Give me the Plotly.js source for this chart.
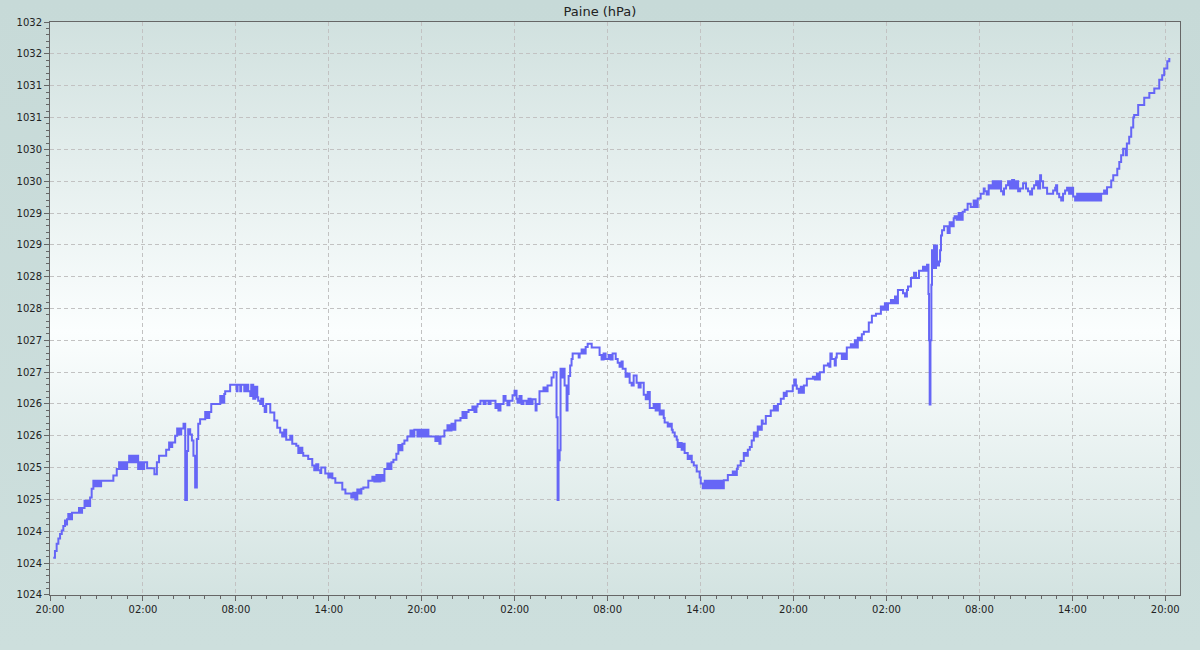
<!DOCTYPE html>
<html>
<head>
<meta charset="utf-8">
<script src="https://cdn.plot.ly/plotly-3.0.1.min.js"></script>
<style>
html, body { margin: 0; padding: 0; }
body { width: 1200px; height: 650px; overflow: hidden; background: linear-gradient(#c7dad8, #cddfdd); }
#chart { width: 1200px; height: 650px; }
</style>
</head>
<body>
<div id="chart"></div>
<script>
// Time axis starts at 20:00 on the first day; offsets are hours from that moment.
const startTime = Date.UTC(2024, 2, 10, 20, 0, 0);
const chartTitle = 'Paine (hPa)';

const hours = [
  0.21, 0.32, 0.43, 0.54, 0.65, 0.76, 0.86, 0.97, 1.03, 1.10, 1.18, 1.23, 1.29, 1.36, 1.42, 1.87, 1.94, 2.07,
  2.23, 2.33, 2.42, 2.52, 2.59, 2.69, 2.80, 2.91, 3.04, 3.17, 3.30, 4.09, 4.31, 4.46, 4.59, 4.72, 4.85, 4.98,
  5.11, 5.24, 5.36, 5.49, 5.62, 5.69, 5.82, 5.95, 6.08, 6.27, 6.74, 6.90, 7.04, 7.50, 7.69, 7.82, 7.89, 8.08,
  8.21, 8.34, 8.47, 8.62, 8.73, 8.84, 8.92, 9.05, 9.16, 9.26, 9.37, 9.48, 9.57, 9.69, 10.02, 10.15, 10.28, 10.41,
  10.99, 11.12, 11.25, 11.31, 11.63, 12.05, 12.11, 12.28, 12.34, 12.54, 12.67, 12.80, 12.93, 12.99, 13.12, 13.25,
  13.38, 13.44, 13.57, 13.64, 13.76, 13.86, 13.96, 14.22, 14.48, 14.67, 14.86, 14.99, 15.12, 15.25, 15.51, 15.64,
  15.90, 16.03, 16.16, 16.29, 16.35, 16.67, 16.93, 17.06, 17.19, 17.32, 17.45, 17.51, 17.77, 17.97, 18.10, 18.23,
  18.42, 18.87, 19.07, 19.45, 19.58, 19.71, 19.84, 19.97, 20.10, 20.23, 20.55, 20.81, 20.94, 21.07, 21.20, 21.33,
  21.46, 21.59, 21.78, 21.91, 22.04, 22.17, 22.36, 22.49, 22.62, 22.75, 22.88, 23.07, 23.27, 23.40, 23.52, 23.72,
  23.85, 23.98, 24.11, 24.24, 24.37, 24.43, 24.88, 25.01, 25.14, 25.21, 25.46, 25.66, 25.79, 25.92, 26.05, 26.17,
  26.50, 26.63, 26.76, 26.89, 27.02, 27.27, 27.40, 27.53, 27.60, 27.79, 27.99, 28.12, 28.31, 28.44, 28.76, 28.89,
  28.95, 29.08, 29.28, 29.41, 29.53, 29.66, 29.86, 29.99, 30.12, 30.18, 30.31, 30.44, 30.57, 30.76, 30.89, 31.02,
  31.15, 31.35, 31.41, 31.60, 31.86, 31.99, 32.12, 32.38, 32.51, 32.70, 32.77, 32.83, 32.90, 32.96, 33.06, 33.16,
  33.22, 33.35, 33.41, 33.48, 33.58, 33.67, 33.74, 34.13, 34.19, 34.32, 34.45, 34.58, 34.71, 34.97, 35.48, 35.61,
  35.74, 35.87, 36.06, 36.19, 36.32, 36.52, 36.65, 36.77, 36.90, 36.97, 37.16, 37.29, 37.42, 37.55, 37.68, 37.87,
  38.00, 38.13, 38.33, 38.46, 38.59, 38.72, 38.97, 39.10, 39.23, 39.36, 39.49, 39.62, 39.68, 39.88, 40.01, 40.14,
  40.20, 40.33, 40.46, 40.52, 40.65, 40.78, 40.91, 40.97, 41.17, 41.30, 41.43, 41.56, 41.75, 41.94, 42.01, 42.14,
  42.27, 42.40, 42.53, 42.66, 42.79, 42.92, 43.05, 43.18, 43.31, 43.44, 43.50, 43.76, 44.08, 44.21, 44.34, 44.40,
  44.59, 44.79, 44.92, 45.05, 45.18, 45.30, 45.44, 45.56, 45.69, 45.82, 45.95, 46.01, 46.21, 46.53, 46.73, 46.86,
  46.99, 47.18, 47.37, 47.50, 47.56, 47.95, 48.05, 48.15, 48.21, 48.34, 48.47, 48.60, 48.67, 48.86, 49.25, 49.38,
  49.51, 49.64, 49.70, 49.96, 50.22, 50.31, 50.38, 50.47, 50.66, 50.73, 50.79, 51.12, 51.25, 51.38, 51.44, 51.70,
  51.83, 51.96, 52.09, 52.15, 52.28, 52.41, 52.54, 52.86, 53.06, 53.32, 53.64, 53.77, 53.90, 54.03, 54.10, 54.29,
  54.42, 54.55, 54.68, 54.74, 55.07, 55.20, 55.32, 55.39, 55.58, 55.78, 55.91, 56.10, 56.36, 56.49, 56.62, 56.71,
  56.75, 56.79, 56.84, 56.90, 56.94, 57.01, 57.07, 57.14, 57.20, 57.26, 57.39, 57.46, 57.52, 57.59, 57.72, 57.95,
  58.08, 58.21, 58.34, 58.40, 58.53, 58.66, 58.79, 58.92, 59.05, 59.24, 59.44, 59.63, 59.76, 59.89, 60.08, 60.28,
  60.34, 60.47, 60.60, 60.73, 60.86, 60.99, 61.11, 61.24, 61.37, 61.40, 61.53, 61.59, 61.72, 61.85, 61.98, 62.11,
  62.24, 62.37, 62.50, 62.63, 62.82, 63.01, 63.14, 63.27, 63.40, 63.53, 63.66, 63.79, 63.92, 63.98, 64.11, 64.37,
  64.76, 64.89, 64.95, 65.02, 65.15, 65.28, 65.40, 65.53, 65.66, 65.79, 65.92, 66.05, 66.18, 66.31, 66.44, 66.57,
  66.70, 66.83, 66.96, 67.09, 67.22, 67.34, 67.47, 67.60, 67.73, 67.86, 68.05, 68.18, 68.24, 68.51, 68.64, 68.90,
  69.03, 69.15, 69.28, 69.45, 69.52, 69.67, 69.80, 69.93, 69.99, 70.25, 70.64, 70.97, 71.29, 71.61, 71.80, 71.93,
  72.13, 72.26
];

const pressure = [
  1024.08, 1024.18, 1024.29, 1024.37, 1024.44, 1024.49, 1024.56, 1024.64, 1024.58, 1024.66, 1024.74, 1024.66, 1024.74, 1024.66, 1024.76, 1024.83, 1024.76, 1024.83,
  1024.94, 1024.86, 1024.94, 1024.86, 1024.99, 1025.12, 1025.24, 1025.16, 1025.24, 1025.16, 1025.24, 1025.32, 1025.42, 1025.52, 1025.42, 1025.52, 1025.42, 1025.52,
  1025.62, 1025.52, 1025.62, 1025.52, 1025.62, 1025.42, 1025.52, 1025.42, 1025.52, 1025.43, 1025.34, 1025.52, 1025.62, 1025.71, 1025.82, 1025.75, 1025.82, 1025.92,
  1026.03, 1025.94, 1026.03, 1026.10, 1024.95, 1025.69, 1026.02, 1025.94, 1025.85, 1025.62, 1025.14, 1025.87, 1026.10, 1026.17, 1026.28, 1026.19, 1026.28, 1026.40,
  1026.52, 1026.42, 1026.55, 1026.59, 1026.69, 1026.59, 1026.69, 1026.59, 1026.69, 1026.59, 1026.69, 1026.59, 1026.52, 1026.69, 1026.48, 1026.66,
  1026.50, 1026.45, 1026.40, 1026.48, 1026.37, 1026.28, 1026.40, 1026.27, 1026.15, 1026.04, 1025.97, 1025.91, 1026.01, 1025.86, 1025.92, 1025.80,
  1025.77, 1025.66, 1025.74, 1025.66, 1025.62, 1025.57, 1025.47, 1025.40, 1025.49, 1025.40, 1025.36, 1025.44, 1025.35, 1025.29, 1025.35, 1025.28,
  1025.21, 1025.11, 1025.05, 1024.99, 1025.06, 1024.96, 1025.11, 1025.05, 1025.12, 1025.14, 1025.24, 1025.30, 1025.23, 1025.33, 1025.23, 1025.33,
  1025.24, 1025.42, 1025.50, 1025.42, 1025.52, 1025.56, 1025.65, 1025.78, 1025.70, 1025.80, 1025.85, 1025.91, 1026.00, 1025.91, 1026.01, 1025.91,
  1026.01, 1025.91, 1026.01, 1025.91, 1026.01, 1025.91, 1025.84, 1025.91, 1025.80, 1025.91, 1026.00, 1026.08, 1026.00, 1026.10, 1026.01, 1026.15,
  1026.19, 1026.28, 1026.19, 1026.28, 1026.31, 1026.36, 1026.28, 1026.36, 1026.40, 1026.45, 1026.40, 1026.45, 1026.40, 1026.45, 1026.34, 1026.40,
  1026.30, 1026.40, 1026.52, 1026.45, 1026.38, 1026.45, 1026.53, 1026.60, 1026.48, 1026.42, 1026.52, 1026.40, 1026.45, 1026.40, 1026.48, 1026.40,
  1026.47, 1026.30, 1026.40, 1026.59, 1026.65, 1026.59, 1026.68, 1026.80, 1026.88, 1026.20, 1024.95, 1025.55, 1025.70, 1026.93, 1026.80, 1026.93,
  1026.68, 1026.30, 1026.55, 1026.82, 1026.98, 1027.08, 1027.16, 1027.10, 1027.16, 1027.22, 1027.16, 1027.26, 1027.31, 1027.25, 1027.14, 1027.07,
  1027.16, 1027.08, 1027.14, 1027.07, 1027.16, 1027.08, 1027.02, 1026.96, 1027.04, 1026.93, 1026.81, 1026.86, 1026.72, 1026.68, 1026.83, 1026.72,
  1026.65, 1026.72, 1026.54, 1026.47, 1026.58, 1026.34, 1026.40, 1026.30, 1026.40, 1026.24, 1026.30, 1026.19, 1026.12, 1026.06, 1026.10, 1026.01,
  1025.97, 1025.91, 1025.86, 1025.75, 1025.81, 1025.71, 1025.80, 1025.66, 1025.57, 1025.62, 1025.52, 1025.47, 1025.38, 1025.29, 1025.20, 1025.13,
  1025.24, 1025.13, 1025.24, 1025.13, 1025.24, 1025.13, 1025.24, 1025.13, 1025.24, 1025.13, 1025.25, 1025.33, 1025.38, 1025.33, 1025.42, 1025.47,
  1025.54, 1025.66, 1025.62, 1025.71, 1025.75, 1025.85, 1025.97, 1025.91, 1026.06, 1026.01, 1026.15, 1026.10, 1026.22, 1026.30, 1026.37, 1026.30,
  1026.40, 1026.48, 1026.57, 1026.52, 1026.59, 1026.68, 1026.77, 1026.68, 1026.63, 1026.57, 1026.66, 1026.57, 1026.68, 1026.78, 1026.81, 1026.77,
  1026.86, 1026.77, 1026.88, 1026.98, 1027.01, 1026.96, 1027.16, 1027.08, 1026.98, 1027.10, 1027.16, 1027.08, 1027.16, 1027.08, 1027.25, 1027.30,
  1027.25, 1027.36, 1027.25, 1027.40, 1027.36, 1027.45, 1027.49, 1027.63, 1027.73, 1027.76, 1027.87, 1027.82, 1027.92, 1027.82, 1027.92, 1027.97,
  1027.92, 1028.02, 1027.92, 1028.12, 1028.07, 1028.02, 1028.12, 1028.17, 1028.30, 1028.38, 1028.30, 1028.41, 1028.47, 1028.41, 1028.50, 1028.06,
  1027.36, 1026.39, 1027.36, 1028.20, 1028.72, 1028.45, 1028.79, 1028.45, 1028.79, 1028.49, 1028.55, 1028.72, 1028.94, 1029.02, 1029.08, 1028.98,
  1029.14, 1029.08, 1029.20, 1029.23, 1029.18, 1029.28, 1029.18, 1029.30, 1029.33, 1029.42, 1029.37, 1029.47, 1029.37, 1029.50, 1029.57, 1029.65,
  1029.61, 1029.56, 1029.70, 1029.65, 1029.76, 1029.65, 1029.76, 1029.65, 1029.76, 1029.61, 1029.56, 1029.65, 1029.70, 1029.76, 1029.65, 1029.78,
  1029.65, 1029.76, 1029.61, 1029.65, 1029.73, 1029.65, 1029.61, 1029.56, 1029.65, 1029.70, 1029.76, 1029.65, 1029.85, 1029.76, 1029.66, 1029.57,
  1029.62, 1029.66, 1029.70, 1029.57, 1029.52, 1029.47, 1029.57, 1029.62, 1029.66, 1029.57, 1029.66, 1029.53, 1029.47, 1029.57, 1029.47, 1029.57,
  1029.47, 1029.57, 1029.47, 1029.57, 1029.47, 1029.57, 1029.47, 1029.57, 1029.47, 1029.57, 1029.62, 1029.57, 1029.67, 1029.77, 1029.85, 1029.95,
  1030.05, 1030.15, 1030.25, 1030.15, 1030.33, 1030.43, 1030.57, 1030.72, 1030.76, 1030.91, 1031.02, 1031.09, 1031.16, 1031.29, 1031.36, 1031.46,
  1031.57, 1031.62
];

function toStamp(ms) {
  return new Date(ms).toISOString().slice(0, 19).replace('T', ' ');
}
const times = hours.map(h => toStamp(startTime + Math.round(h * 3600000)));

const axisFont = { family: 'DejaVu Sans, sans-serif', size: 10, color: '#222222' };
const lineGrey = '#666666';

const bgSvg = '<svg xmlns="http://www.w3.org/2000/svg" width="100" height="100" preserveAspectRatio="none">' +
  '<defs><linearGradient id="g" x1="0" y1="0" x2="0" y2="1">' +
  '<stop offset="0" stop-color="#d1e1df"/>' +
  '<stop offset="0.54" stop-color="#fbfefe"/>' +
  '<stop offset="1" stop-color="#d3e3e1"/>' +
  '</linearGradient></defs><rect width="100" height="100" fill="url(#g)"/></svg>';

const trace = {
  x: times,
  y: pressure,
  type: 'scatter',
  mode: 'lines',
  line: { color: '#6666f6', width: 2, shape: 'hv' },
  hoverinfo: 'x+y'
};

const layout = {
  width: 1200,
  height: 650,
  margin: { l: 50, r: 20, t: 22, b: 55, pad: 0 },
  paper_bgcolor: 'rgba(0,0,0,0)',
  plot_bgcolor: 'rgba(0,0,0,0)',
  showlegend: false,
  title: {
    text: chartTitle,
    font: { family: 'DejaVu Sans, sans-serif', size: 13, color: '#222222' },
    xref: 'container', x: 0.5, xanchor: 'center',
    yref: 'container', y: 1 - 11 / 650, yanchor: 'middle'
  },
  images: [{
    source: 'data:image/svg+xml;charset=utf-8,' + encodeURIComponent(bgSvg),
    xref: 'paper', yref: 'paper', x: 0, y: 1, sizex: 1, sizey: 1,
    xanchor: 'left', yanchor: 'top', sizing: 'stretch', layer: 'below'
  }],
  xaxis: {
    type: 'date',
    range: [toStamp(startTime), toStamp(startTime + 72.95 * 3600000)],
    tickmode: 'linear',
    tick0: toStamp(startTime),
    dtick: 6 * 3600000,
    tickformat: '%H:%M',
    tickfont: axisFont,
    ticks: 'outside', ticklen: 5, tickcolor: lineGrey, tickwidth: 1,
    showline: true, linecolor: lineGrey, linewidth: 1, mirror: true,
    showgrid: true, gridcolor: '#c2c2c2', gridwidth: 1, griddash: '4px,3px',
    zeroline: false,
    minor: { dtick: 3600000, ticks: 'outside', ticklen: 3, tickcolor: lineGrey, showgrid: false }
  },
  yaxis: {
    range: [1023.518, 1032.162],
    tickmode: 'linear',
    tick0: 1023.52,
    dtick: 0.48,
    tickformat: '.0f',
    tickfont: axisFont,
    ticks: 'outside', ticklen: 5, tickcolor: lineGrey, tickwidth: 1,
    showline: true, linecolor: lineGrey, linewidth: 1, mirror: true,
    showgrid: true, gridcolor: '#c2c2c2', gridwidth: 1, griddash: '4px,3px',
    zeroline: false,
    minor: { tick0: 1023.52, dtick: 0.096, ticks: 'outside', ticklen: 3, tickcolor: lineGrey, showgrid: false }
  }
};

Plotly.newPlot('chart', [trace], layout, { displayModeBar: false, staticPlot: true });
</script>
</body>
</html>
